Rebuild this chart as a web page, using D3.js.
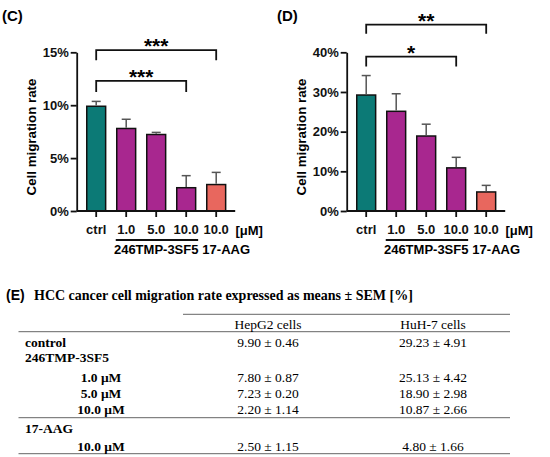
<!DOCTYPE html>
<html><head><meta charset="utf-8">
<script src="https://cdn.jsdelivr.net/npm/d3@7"></script>
<style>
html,body{margin:0;padding:0;background:#fff;}
svg{display:block;}
</style></head>
<body>
<script>
// ---------- DATA ----------
const categories = ["ctrl", "1.0", "5.0", "10.0", "10.0 "];
const tickLabels = ["ctrl", "1.0", "5.0", "10.0", "10.0"];
const groups = ["control", "246TMP", "246TMP", "246TMP", "17AAG"];
const hepg2Mean = [9.90, 7.80, 7.23, 2.20, 2.50];
const hepg2Sem  = [0.46, 0.87, 0.20, 1.14, 1.15];
const huh7Mean  = [29.23, 25.13, 18.90, 10.87, 4.80];
const huh7Sem   = [4.91, 4.42, 2.98, 2.66, 1.66];
const hepg2Ticks = [0, 5, 10, 15];
const huh7Ticks  = [0, 10, 20, 30, 40];
// significance brackets: [fromIndex, toIndex, level (%), drop (%), label]
const hepg2Sig = [[0, 4, 15.2, 0.95, "***"], [0, 3, 12.3, 1.05, "***"]];
const huh7Sig  = [[0, 4, 47.0, 2.3, "**"], [0, 3, 38.9, 2.5, "*"]];
// table
const tableTitleTag = "(E)";
const tableTitle = "HCC cancer cell migration rate expressed as means ± SEM [%]";
const tableHeader = ["HepG2 cells", "HuH-7 cells"];
const tableRows = [
  {label: "control", indent: false, v1: "9.90 ± 0.46", v2: "29.23 ± 4.91"},
  {label: "246TMP-3SF5", indent: false, v1: "", v2: ""},
  {label: "1.0 μM", indent: true, v1: "7.80 ± 0.87", v2: "25.13 ± 4.42"},
  {label: "5.0 μM", indent: true, v1: "7.23 ± 0.20", v2: "18.90 ± 2.98"},
  {label: "10.0 μM", indent: true, v1: "2.20 ± 1.14", v2: "10.87 ± 2.66"},
  {label: "17-AAG", indent: false, v1: "", v2: ""},
  {label: "10.0 μM", indent: true, v1: "2.50 ± 1.15", v2: "4.80 ± 1.66"}
];

// ---------- DRAW ----------
const W = 550, H = 457;
const colors = {control: "#0c7a76", "246TMP": "#a8278f", "17AAG": "#e8675e"};
const SANS = "'Liberation Sans', Arial, Helvetica, sans-serif";
const SERIF = "'Liberation Serif', 'Times New Roman', serif";

const svg = d3.select("body").append("svg").attr("width", W).attr("height", H)
  .attr("font-family", SANS);

function panel(opts) {
  const g = svg.append("g");
  const x = d3.scaleBand().domain(categories).range(opts.xRange)
    .paddingInner(0.37).paddingOuter(0.185);
  const y = d3.scaleLinear().domain(opts.yDomain).range([211, 52.3]);
  const bw = x.bandwidth();
  const cx = i => x(categories[i]) + bw / 2;

  // panel tag
  g.append("text").attr("x", opts.tagX).attr("y", 21).attr("font-size", 15)
    .attr("font-weight", "bold").text(opts.tag);

  // y axis title
  g.append("text").attr("transform", `translate(${opts.titleX},137) rotate(-90)`)
    .attr("text-anchor", "middle").attr("font-size", 13.3).attr("font-weight", "bold")
    .text("Cell migration rate");

  // bars
  g.selectAll("rect.bar").data(opts.mean).join("rect").attr("class", "bar")
    .attr("x", (d, i) => x(categories[i])).attr("width", bw)
    .attr("y", d => y(d)).attr("height", d => y(0) - y(d))
    .attr("fill", (d, i) => colors[groups[i]])
    .attr("stroke", "#111").attr("stroke-width", 1.5);

  // error bars (upper only)
  const eb = g.append("g").attr("stroke", "#555").attr("stroke-width", 1.5);
  opts.mean.forEach((m, i) => {
    eb.append("line").attr("x1", cx(i)).attr("x2", cx(i))
      .attr("y1", y(m) - 0.75).attr("y2", y(m + opts.sem[i]));
    eb.append("line").attr("x1", cx(i) - 4.5).attr("x2", cx(i) + 4.5)
      .attr("y1", y(m + opts.sem[i])).attr("y2", y(m + opts.sem[i]));
  });

  // y axis
  const ya = g.append("g").attr("transform", `translate(${opts.xRange[0] - 4.5},0)`)
    .call(d3.axisLeft(y).tickValues(opts.yTicks).tickFormat(d => d + "%")
      .tickSize(6).tickPadding(2).tickSizeOuter(0));
  ya.select(".domain").attr("stroke-width", 1.8).attr("stroke", "#111");
  ya.selectAll(".tick line").attr("stroke-width", 1.8).attr("stroke", "#111");
  ya.selectAll(".tick text").attr("font-size", 13).attr("font-weight", "bold")
    .attr("font-family", SANS).attr("fill", "#111");

  // x axis
  const xa = g.append("g").attr("transform", `translate(0,${y(0)})`)
    .call(d3.axisBottom(x).tickSize(6).tickSizeOuter(0).tickFormat((d, i) => tickLabels[i]).tickPadding(8));
  xa.select(".domain").attr("d", `M${opts.xRange[0] - 4.5},0H${opts.xRange[1] + 4}`)
    .attr("stroke-width", 1.8).attr("stroke", "#111");
  xa.selectAll(".tick line").attr("stroke-width", 1.8).attr("stroke", "#111");
  xa.selectAll(".tick text").attr("font-size", 13).attr("font-weight", "bold")
    .attr("font-family", SANS).attr("fill", "#111");

  // [μM]
  g.append("text").attr("x", cx(4) + 33).attr("y", 234.5).attr("text-anchor", "middle")
    .attr("font-size", 13).attr("font-weight", "bold").text("[μM]");

  // group underline and labels
  g.append("line").attr("x1", x(categories[1]) - 1).attr("x2", x(categories[3]) + bw + 2.5)
    .attr("y1", 240).attr("y2", 240).attr("stroke", "#111").attr("stroke-width", 1.8);
  g.append("text").attr("x", cx(2)).attr("y", 253.5).attr("text-anchor", "middle")
    .attr("font-size", 13).attr("font-weight", "bold").text("246TMP-3SF5");
  g.append("text").attr("x", cx(4) + 10).attr("y", 253.5).attr("text-anchor", "middle")
    .attr("font-size", 13).attr("font-weight", "bold").text("17-AAG");

  // significance brackets
  opts.sig.forEach(([a, b, lvl, drop, lab]) => {
    const yy = y(lvl), yd = y(lvl - drop);
    g.append("path").attr("d", `M${cx(a)},${yd}V${yy}H${cx(b)}V${yd}`)
      .attr("fill", "none").attr("stroke", "#111").attr("stroke-width", 1.8);
    g.append("text").attr("x", (cx(a) + cx(b)) / 2).attr("y", yy + 3)
      .attr("text-anchor", "middle").attr("font-size", 21).attr("font-weight", "bold")
      .text(lab);
  });
}

panel({tag: "(C)", tagX: 2, titleX: 36, xRange: [81.2, 231.2], yDomain: [0, 15], yTicks: hepg2Ticks,
  mean: hepg2Mean, sem: hepg2Sem, sig: hepg2Sig});
panel({tag: "(D)", tagX: 277, titleX: 306, xRange: [351.2, 501.2], yDomain: [0, 40], yTicks: huh7Ticks,
  mean: huh7Mean, sem: huh7Sem, sig: huh7Sig});

// ---------- TABLE ----------
const t = svg.append("g");
t.append("text").attr("x", 6).attr("y", 299.5).attr("font-size", 14).attr("font-weight", "bold")
  .attr("font-family", SANS).text(tableTitleTag);
t.append("text").attr("x", 34).attr("y", 299.5).attr("font-size", 14).attr("font-weight", "bold")
  .attr("font-family", SERIF).text(tableTitle);

const colX = [268, 433];
const rowBase = [346.7, 361.7, 381.7, 398.3, 414.3, 433.3, 450.7];
const lineStyle = sel => sel.attr("stroke", "#666").attr("stroke-width", 1);
lineStyle(t.append("line").attr("x1", 183).attr("x2", 510).attr("y1", 314.3).attr("y2", 314.3));
[331.7, 417.7, 453.7].forEach(yv =>
  lineStyle(t.append("line").attr("x1", 18.5).attr("x2", 510).attr("y1", yv).attr("y2", yv)));

tableHeader.forEach((h, i) => t.append("text").attr("x", colX[i]).attr("y", 329.3)
  .attr("text-anchor", "middle").attr("font-family", SERIF).attr("font-size", 13.5).text(h));

tableRows.forEach((r, i) => {
  t.append("text").attr("x", r.indent ? 101 : 25).attr("y", rowBase[i])
    .attr("text-anchor", r.indent ? "middle" : "start")
    .attr("font-family", SERIF).attr("font-size", 13.5).attr("font-weight", "bold").text(r.label);
  [r.v1, r.v2].forEach((v, j) => t.append("text").attr("x", colX[j]).attr("y", rowBase[i])
    .attr("text-anchor", "middle").attr("font-family", SERIF).attr("font-size", 13.5).text(v));
});
</script>
</body></html>
